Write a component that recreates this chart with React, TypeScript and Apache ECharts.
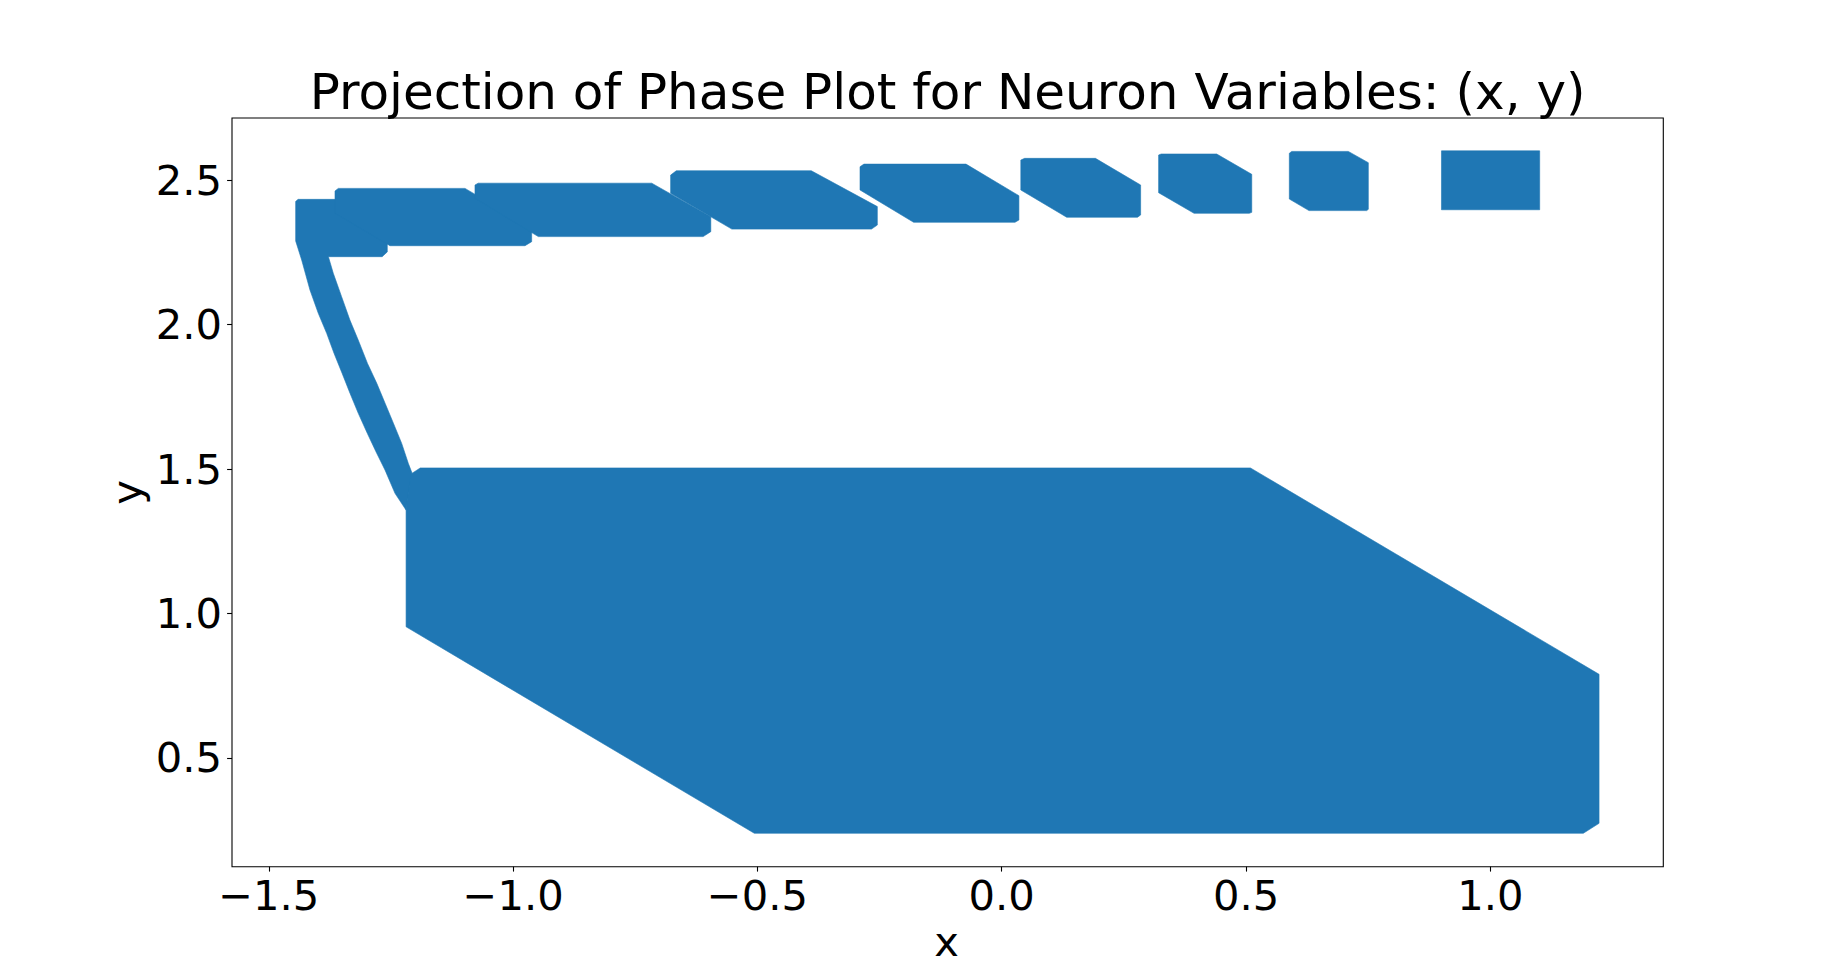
import React, { useEffect, useRef } from "react";
import * as echarts from "echarts";

// ---- Data (data coordinates of the filled regions of the phase projection) ----
const titleText = "Projection of Phase Plot for Neuron Variables: (x, y)";
const xLabel = "x";
const yLabel = "y";
const xTicks = [-1.5, -1.0, -0.5, 0.0, 0.5, 1.0];
const yTicks = [0.5, 1.0, 1.5, 2.0, 2.5];
const xRange = [-1.5753, 1.354];
const yRange = [0.1233, 2.7157];

// Region A plus the descending band to the lower block
const regionA: number[][] = [
  [-1.445, 2.427], [-1.44, 2.434], [-1.3, 2.434], [-1.2575, 2.391], [-1.2575, 2.252],
  [-1.268, 2.2355], [-1.378, 2.2355], [-1.368, 2.178], [-1.351, 2.097], [-1.334, 2.016],
  [-1.317, 1.947], [-1.298, 1.866], [-1.279, 1.797], [-1.262, 1.728], [-1.245, 1.659],
  [-1.228, 1.589], [-1.2145, 1.52], [-1.207, 1.487], [-1.219, 1.358], [-1.2417, 1.416],
  [-1.2622, 1.497], [-1.2806, 1.56], [-1.2984, 1.624], [-1.3168, 1.693], [-1.3338, 1.7625],
  [-1.35, 1.832], [-1.3665, 1.901], [-1.3815, 1.97], [-1.3987, 2.0395], [-1.4157, 2.12],
  [-1.4327, 2.224], [-1.445, 2.29],
];
const regionB: number[][] = [
  [-1.3645, 2.463], [-1.3577, 2.472], [-1.0984, 2.472], [-0.962, 2.336],
  [-0.962, 2.2874], [-0.9756, 2.2735], [-1.252, 2.2735], [-1.3645, 2.3857],
];
const regionC: number[][] = [
  [-1.078, 2.4837], [-1.0715, 2.49], [-0.7163, 2.49], [-0.5954, 2.374],
  [-0.5954, 2.322], [-0.6111, 2.305], [-0.9484, 2.305], [-1.078, 2.4377],
];
const regionD: number[][] = [
  [-0.6776, 2.518], [-0.666, 2.533], [-0.3897, 2.533], [-0.2546, 2.409],
  [-0.2546, 2.345], [-0.2665, 2.331], [-0.5523, 2.331], [-0.6776, 2.455],
];
const regionE: number[][] = [
  [-0.29, 2.547], [-0.282, 2.556], [-0.0731, 2.556], [0.0352, 2.4467],
  [0.0352, 2.3625], [0.0272, 2.3546], [-0.1803, 2.3546], [-0.29, 2.4664],
];
const regionF: number[][] = [
  [0.0391, 2.57], [0.0469, 2.576], [0.1918, 2.576], [0.2843, 2.4837],
  [0.2843, 2.38], [0.2779, 2.372], [0.133, 2.372], [0.0391, 2.4664],
];
const regionG: number[][] = [
  [0.3211, 2.5876], [0.3264, 2.591], [0.44, 2.591], [0.5117, 2.5208],
  [0.5117, 2.389], [0.5067, 2.3857], [0.3936, 2.3857], [0.3211, 2.457],
];
const regionH: number[][] = [
  [0.5886, 2.5935], [0.5935, 2.6], [0.7094, 2.6], [0.7503, 2.561],
  [0.7503, 2.3995], [0.747, 2.395], [0.6289, 2.395], [0.5886, 2.4352],
];
const regionI: number[][] = [
  [0.9, 2.602], [1.101, 2.602], [1.101, 2.398], [0.9, 2.398],
];
const regionBig: number[][] = [
  [-1.219, 1.365], [-1.209, 1.483], [-1.19, 1.504], [0.509, 1.504], [1.2225, 0.7895],
  [1.2225, 0.2735], [1.1903, 0.239], [-0.5063, 0.239], [-1.219, 0.954],
];

const regions = [regionA, regionB, regionC, regionD, regionE, regionF, regionG, regionH, regionI, regionBig];

const FILL = "#1f77b4";
const FONT = "DejaVu Sans";

const fmt = (v: number) => (v < 0 ? "\u2212" + Math.abs(v).toFixed(1) : v.toFixed(1));

export default function App() {
  const ref = useRef<HTMLDivElement>(null);

  useEffect(() => {
    if (!ref.current) return;
    const chart = echarts.init(ref.current, undefined, { renderer: "svg" });
    const gridLeft = 232;
    const gridTop = 118;
    const gridRight = 1663.3;
    const gridBottom = 866.7;
    chart.setOption({
      animation: false,
      backgroundColor: "#ffffff",
      grid: {
        left: gridLeft,
        top: gridTop,
        width: gridRight - gridLeft,
        height: gridBottom - gridTop,
        show: true,
        borderColor: "#000000",
        borderWidth: 1.1,
        backgroundColor: "transparent",
      },
      xAxis: {
        type: "value",
        min: xRange[0],
        max: xRange[1],
        position: "bottom",
        splitLine: { show: false },
        axisLine: { show: false, onZero: false },
        axisTick: {
          show: true,
          customValues: xTicks,
          length: 4.9,
          inside: false,
          lineStyle: { color: "#000", width: 1.1 },
        },
        axisLabel: {
          customValues: xTicks,
          formatter: fmt,
          fontFamily: FONT,
          fontSize: 41.67,
          color: "#000",
          margin: 29,
          verticalAlign: "middle",
        },
      },
      yAxis: {
        type: "value",
        min: yRange[0],
        max: yRange[1],
        position: "left",
        splitLine: { show: false },
        axisLine: { show: false, onZero: false },
        axisTick: {
          show: true,
          customValues: yTicks,
          length: 4.9,
          inside: false,
          lineStyle: { color: "#000", width: 1.1 },
        },
        axisLabel: {
          customValues: yTicks,
          formatter: fmt,
          fontFamily: FONT,
          fontSize: 41.67,
          color: "#000",
          margin: 10,
          verticalAlign: "middle",
        },
      },
      graphic: [
        {
          type: "text",
          x: (gridLeft + gridRight) / 2,
          y: 91.7,
          style: {
            text: titleText,
            fontFamily: FONT,
            fontSize: 50,
            fill: "#000",
            align: "center",
            verticalAlign: "middle",
          },
        },
        {
          type: "text",
          x: 946.7,
          y: 941.3,
          style: {
            text: xLabel,
            fontFamily: FONT,
            fontSize: 41.67,
            fill: "#000",
            align: "center",
            verticalAlign: "middle",
          },
        },
        {
          type: "text",
          x: 126.7,
          y: 492.3,
          rotation: Math.PI / 2,
          style: {
            text: yLabel,
            fontFamily: FONT,
            fontSize: 41.67,
            fill: "#000",
            align: "center",
            verticalAlign: "middle",
          },
        },
      ],
      series: [
        {
          type: "custom",
          silent: true,
          clip: true,
          data: regions.map((_, i) => [i]),
          renderItem: (params: any, api: any) => {
            const pts = regions[params.dataIndex].map((p) => api.coord(p));
            return {
              type: "polygon",
              shape: { points: pts },
              style: { fill: FILL, stroke: FILL, lineWidth: 0.6 },
            };
          },
        },
      ],
    });
    return () => chart.dispose();
  }, []);

  return (
    <div
      ref={ref}
      style={{ position: "fixed", left: 0, top: 0, width: 1848, height: 974, background: "#fff" }}
    />
  );
}
